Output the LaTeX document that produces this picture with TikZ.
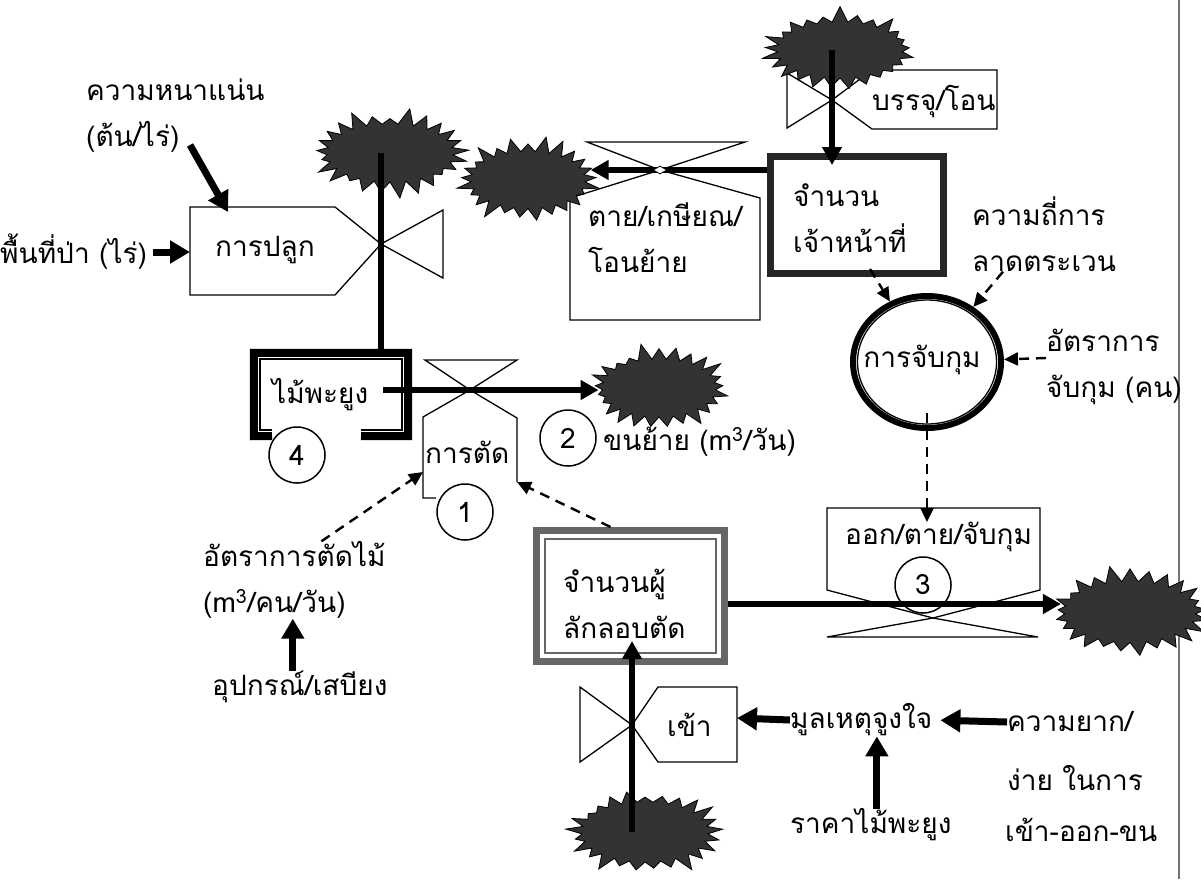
\documentclass[tikz,border=0pt]{standalone}
\usepackage{fontspec}
\newfontfamily\thaifont[Script=Thai]{Loma}
\usetikzlibrary{shapes.symbols,shapes.geometric,arrows.meta}

\tikzset{
  lbl/.style={font=\thaifont\fontsize{28}{46}\selectfont, align=left, inner sep=0pt, anchor=west},
  pipe/.style={line width=6pt},
  pipearrow/.style={line width=6pt, -{Triangle[length=18pt,width=19pt]}},
  infoarrow/.style={line width=7pt, -{Triangle[length=20pt,width=22pt]}},
  linkarrow/.style={line width=2.4pt, dash pattern=on 10pt off 7pt, -{Triangle[length=14pt,width=13pt]}},
  valve/.style={line width=1.3pt, line join=miter},
  burst/.style={starburst, starburst points=25, starburst point height=17pt, fill=black!80, draw=black, line width=0.8pt, inner sep=0pt},
  numcirc/.style={circle, draw, line width=1.5pt, fill=white, minimum size=56pt, inner sep=0pt, font=\thaifont\fontsize{28}{30}\selectfont},
}

\begin{document}
\begin{tikzpicture}[x=1pt,y=1pt,yscale=-1]
\useasboundingbox (0,0) rectangle (1201,879);

% page edge
\draw[black!55, line width=1.2pt] (1179,0) -- (1179,879);

%Flow: planting
\coordinate (plantv) at (381,244);
\coordinate (plantnw) at (190,207);
\draw[valve] (plantnw) -- (335,207) -- (plantv) -- (335,295) -- (190,295) -- cycle;
\draw[valve] (plantv) -- (443,210) -- (443,278) -- cycle;
%Flow: cutting
\coordinate (cutv) at (470,390);
\draw[valve] (425,360) -- (517,360) -- (cutv) -- cycle;
\draw[valve] (436,498) -- (423,498) -- (423,417) -- (cutv) -- (517,418) -- (517,482);
%Flow: retire
\coordinate (retirev) at (660,170);
\draw[valve] (587,142) -- (745,142) -- (retirev) -- cycle;
\draw[valve] (570,198) -- (retirev) -- (760,198) -- (760,320) -- (570,320) -- cycle;
%Flow: recruit
\coordinate (recruitv) at (832,100);
\draw[valve] (recruitv) -- (787,73) -- (787,128) -- cycle;
\draw[valve] (recruitv) -- (872,70) -- (997,70) -- (997,129) -- (872,129) -- cycle;
%Flow: exit
\coordinate (exitv) at (933,618);
\coordinate (exitpipe) at (933,604);
\draw[valve] (827,508) -- (1040,508) -- (1040,590) -- (exitv) -- (827,590) -- cycle;
\draw[valve] (exitv) -- (827,637) -- (1038,637) -- cycle;
%Flow: enter
\coordinate (enterv) at (632,725);
\draw[valve] (enterv) -- (580,687) -- (580,762) -- cycle;
\draw[valve] (enterv) -- (658,687) -- (737,687) -- (737,762) -- (658,762) -- cycle;

%Stock: wood
\node[minimum width=154pt, minimum height=83pt, inner sep=0pt] (wood) at (331,394.5) {};
\draw[line width=8pt, line join=miter] (272,436) -- (wood.south west) -- (wood.north west) -- (wood.north east) -- (wood.south east) -- (361,436);
\draw[line width=1.5pt] (272,430) -- (260,430) -- (260,359) -- (402,359) -- (402,430) -- (361,430);
%Stock: officers
\node[draw=black!85, line width=7pt, minimum width=173pt, minimum height=117pt] (officers) at (857,215) {};
%Stock: poachers
\node[draw=black!60, line width=7pt, minimum width=188pt, minimum height=131pt] (poach) at (630.5,596) {};
\draw[black!60, line width=1.5pt] (545,539) rectangle (716,653);
%Converter: arrest
\node[ellipse, draw, line width=6pt, minimum width=148pt, minimum height=132pt, inner sep=0pt] (arrest) at (927,362) {};
\draw[line width=1.3pt] (arrest.center) ellipse [x radius=69.5pt, y radius=62pt];

% Clouds
\node[burst, random starburst=3, minimum width=160pt, minimum height=92pt] (src1) at (390,153) {};
\node[burst, random starburst=5, minimum width=147pt, minimum height=92pt] (sink2) at (659,388) {};
\node[burst, random starburst=7, minimum width=159pt, minimum height=90pt] (src3) at (840,50) {};
\node[burst, random starburst=9, minimum width=148pt, minimum height=91pt] (sink4) at (528,180) {};
\node[burst, random starburst=11, minimum width=165pt, minimum height=95pt] (sink5) at (1130,612) {};
\node[burst, random starburst=13, minimum width=160pt, minimum height=94pt] (src6) at (645,832) {};

% Number circles
\node[numcirc] (n1) at (465,512) {1};
\node[numcirc] (n2) at (568,438) {2};
\node[numcirc] (n3) at (923,585) {3};
\node[numcirc] (n4) at (297,455) {4};

% Pipes
\draw[pipe] (src1.center -| plantv) -- (wood.north -| plantv);
\draw[pipearrow] ([xshift=52pt,yshift=-4.5pt]wood.center) -- (sink2.west |- cutv);
\draw[pipearrow] (officers.west |- retirev) -- (sink4.east |- retirev);
\draw[pipearrow, shorten >=-12pt] (src3.center -| recruitv) -- (officers.north -| recruitv);
\draw[pipearrow] (poach.east |- exitpipe) -- (sink5.west |- exitpipe);
\draw[pipearrow, shorten >=-24pt] (src6.center -| enterv) -- (poach.south -| enterv);
\node[diamond, draw, fill=white, line width=0.8pt, minimum width=14pt, minimum height=8pt, inner sep=0pt] (retiregap) at (retirev) {};

% Text Node
\node[lbl] (density) at (86,116) {ความหนาแน่น\\(ต้น/ไร่)};
\node[lbl] (area) at (0,252) {พื้นที่ป่า (ไร่)};
\node[lbl] (plantlbl) at (215,250) {การปลูก};
\node[lbl] (woodlbl) at (272,395) {ไม้พะยูง};
\node[lbl] (cutlbl) at (425,452) {การตัด};
\node[lbl] (haul) at (603,442) {ขนย้าย (m\textsuperscript{3}/วัน)};
\node[lbl] (rate) at (203,580) {อัตราการตัดไม้\\(m\textsuperscript{3}/คน/วัน)};
\node[lbl] (equip) at (212,687) {อุปกรณ์/เสบียง};
\node[lbl] (poachlbl) at (563,604) {จำนวนผู้\\ลักลอบตัด};
\node[lbl] (enterlbl) at (667,725) {เข้า};
\node[lbl] (motive) at (790,720) {มูลเหตุจูงใจ};
\node[lbl] (price) at (790,825) {ราคาไม้พะยูง};
\node[lbl] (diff1) at (1007,722) {ความยาก/};
\node[lbl] (diff2) at (1007,778) {ง่าย ในการ};
\node[lbl] (diff3) at (1005,830) {เข้า-ออก-ขน};
\node[lbl] (exitlbl) at (845,537) {ออก/ตาย/จับกุม};
\node[lbl] (freq) at (972,234) {ความถี่การ\\ลาดตระเวน};
\node[lbl] (arrestrate) at (1046,367) {อัตราการ\\จับกุม (คน)};
\node[lbl, anchor=center] (arrestlbl) at (922,360) {การจับกุม};
\node[lbl] (officerslbl) at (793,218) {จำนวน\\เจ้าหน้าที่};
\node[lbl] (retirelbl) at (588,238) {ตาย/เกษียณ/\\โอนย้าย};
\node[lbl] (recruitlbl) at (872,102) {บรรจุ/โอน};

% Connection
\coordinate (plantin) at (228,212);
\coordinate (cutinl) at (423,472);
\coordinate (cutinr) at (517,482);
\coordinate (enterin) at (737,718);
\coordinate (exitin) at (927,522);
\draw[infoarrow] ([xshift=104pt,yshift=-8pt]density.south west) -- (plantin);
\draw[infoarrow, shorten <=6pt] (area.east) -- (area.east -| plantnw);
\draw[linkarrow] ([xshift=27pt]rate.north) -- (cutinl);
\draw[infoarrow] ([xshift=-7pt]equip.north) -- ([xshift=-7pt]equip.north |- rate.south);
\draw[linkarrow] ([xshift=-20pt]poach.north) -- (cutinr);
\draw[infoarrow] (motive.west) -- (enterin);
\draw[infoarrow, shorten >=8pt] (diff1.west) -- (motive.east);
\draw[infoarrow] ([xshift=6pt]price.north) -- ([xshift=6pt]price.north |- motive.south);
\draw[linkarrow] ([xshift=13pt,yshift=-8pt]officers.south) -- (arrest);
\draw[linkarrow] ([xshift=31pt]freq.south west) -- (arrest);
\draw[linkarrow] ([yshift=-9pt]arrestrate.west) -- (arrest);
\draw[linkarrow] ([yshift=51pt]arrest.center) -- (exitin);
\end{tikzpicture}
\end{document}
